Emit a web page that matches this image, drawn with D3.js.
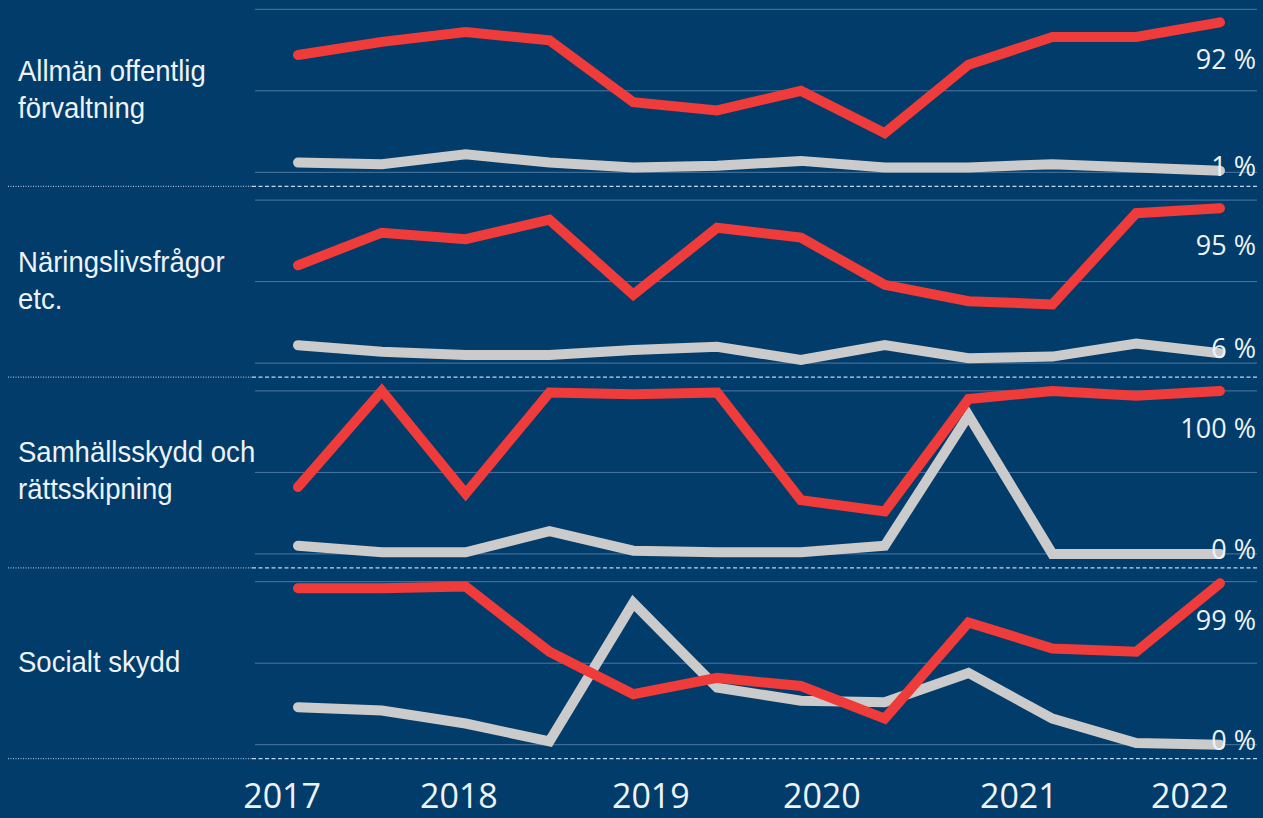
<!DOCTYPE html>
<html>
<head>
<meta charset="utf-8">
<script src="https://cdn.jsdelivr.net/npm/d3@7"></script>
<style>
  html, body { margin: 0; padding: 0; background: #023c6a; }
  svg { display: block; }
</style>
</head>
<body>
<svg id="chart" width="1263" height="818"></svg>
<script>
// Sectors (one small panel each), label lines as drawn on the left
const sectors = [
  ["Allmän offentlig", "förvaltning"],
  ["Näringslivsfrågor", "etc."],
  ["Samhällsskydd och", "rättsskipning"],
  ["Socialt skydd"]
];

// Twelve measurement rounds, 2017–2022 (share in percent)
const redSeries = [
  [72, 80, 86, 81, 43, 38, 50, 24, 66, 83, 83, 92],
  [60, 80, 76, 88, 42, 83, 77, 48, 38, 36, 92, 95],
  [41, 100, 37, 99, 98, 99, 33, 26, 95, 100, 97, 100],
  [96, 96, 97, 57, 31, 41, 36, 16, 75, 59, 57, 99]
];
const graySeries = [
  [6, 5, 11, 6, 3, 4, 7, 3, 3, 5, 3, 1],
  [11, 7, 5, 5, 8, 10, 2, 11, 3, 4, 12, 6],
  [5, 1, 1, 14, 2, 1, 1, 5, 85, 0, 0, 0],
  [23, 21, 13, 2, 87, 35, 27, 26, 44, 16, 1, 0]
];

// Year tick labels and where they sit along the round index axis
const yearLabels = ["2017", "2018", "2019", "2020", "2021", "2022"];
const yearTickPos = [-0.19, 1.92, 4.21, 6.25, 8.6, 10.64];

const yTicks = [0, 50, 100];

const svg = d3.select("#chart");

const colors = { red: "#ef3b3a", gray: "#cbcbcb", text: "#eef3f8", grid: "#5f88b0", sep: "#c0d8f0" };

const panelTop0 = 9.3, panelStep = 190.8, panelH = 163;
const gridX0 = 255, gridX1 = 1257;

const x = d3.scaleLinear().domain([0, 11]).range([298, 1220]);

sectors.forEach((lines, k) => {
  const top = panelTop0 + k * panelStep;
  const y = d3.scaleLinear().domain([0, 100]).range([top + panelH, top]);
  const g = svg.append("g");

  // horizontal gridlines at 0, 50 and 100 %
  g.selectAll("line.grid").data(yTicks).join("line")
    .attr("x1", gridX0).attr("x2", gridX1)
    .attr("y1", d => y(d)).attr("y2", d => y(d))
    .attr("stroke", colors.grid).attr("stroke-width", 1).attr("opacity", 0.8);

  // separator under the panel: dotted under the label, dashed under the plot
  const sepY = top + panelH + 14;
  g.append("line").attr("x1", 8).attr("x2", 252).attr("y1", sepY).attr("y2", sepY)
    .attr("stroke", colors.sep).attr("stroke-width", 1).attr("stroke-dasharray", "1,1.5");
  g.append("line").attr("x1", 252).attr("x2", gridX1).attr("y1", sepY).attr("y2", sepY)
    .attr("stroke", colors.sep).attr("stroke-width", 1.3).attr("stroke-dasharray", "4,2.5");

  // sector label
  const firstBase = top + 90 - (lines.length - 1) * 18.5;
  lines.forEach((t, i) => {
    g.append("text")
      .attr("transform", `translate(18,${firstBase + i * 37}) scale(0.95,1)`)
      .attr("font-family", "Liberation Sans, Arial, sans-serif")
      .attr("font-size", 29)
      .attr("fill", colors.text)
      .text(t);
  });

  const line = d3.line().x((d, i) => x(i)).y(d => y(d));

  [[graySeries[k], colors.gray], [redSeries[k], colors.red]].forEach(([vals, c]) => {
    g.append("path").datum(vals)
      .attr("d", line)
      .attr("fill", "none")
      .attr("stroke", c)
      .attr("stroke-width", 10)
      .attr("stroke-linecap", "round")
      .attr("stroke-linejoin", "miter")
      .attr("stroke-miterlimit", 3);
  });

  // end-value labels
  const rLast = redSeries[k][redSeries[k].length - 1];
  const gLast = graySeries[k][graySeries[k].length - 1];
  g.append("text")
    .attr("x", 1256).attr("y", y(rLast) + 47)
    .attr("text-anchor", "end")
    .attr("font-family", "Open Sans, sans-serif").attr("font-size", 27)
    .attr("fill", colors.text)
    .text(rLast + " %");
  g.append("text")
    .attr("x", 1256).attr("y", y(gLast) + 5)
    .attr("text-anchor", "end")
    .attr("font-family", "Open Sans, sans-serif").attr("font-size", 27)
    .attr("fill", colors.text)
    .text(gLast + " %");
});

// year axis labels
svg.append("g").selectAll("text").data(yearLabels).join("text")
  .attr("x", (d, i) => x(yearTickPos[i]))
  .attr("y", 808)
  .attr("text-anchor", "middle")
  .attr("font-family", "Open Sans, sans-serif")
  .attr("font-size", 34)
  .attr("fill", colors.text)
  .text(d => d);
</script>
</body>
</html>
